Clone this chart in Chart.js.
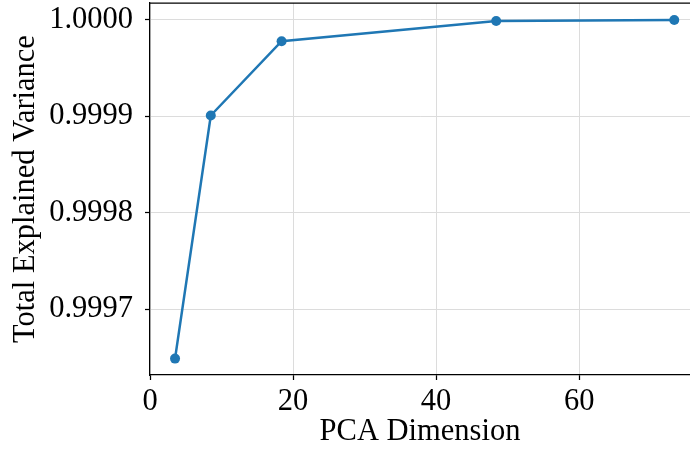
<!DOCTYPE html>
<html>
<head>
<meta charset="utf-8">
<script src="https://cdn.jsdelivr.net/npm/chart.js@4/dist/chart.umd.min.js"></script>
<style>
  html, body { margin: 0; padding: 0; background: #ffffff; }
  #wrap { width: 690px; height: 453px; }
</style>
</head>
<body>
<div id="wrap"><canvas id="c" width="690" height="453"></canvas></div>
<script>
// PCA dimension vs. cumulative explained variance
const dimensions = [3.5, 8.5, 18.4, 48.4, 73.3];
const explainedVariance = [0.999649, 0.999901, 0.999978, 0.999999, 1.0000];
const xTicks = [0, 20, 40, 60];
const yTicks = [0.9997, 0.9998, 0.9999, 1.0000];

const serif = "'Liberation Serif', 'DejaVu Serif', serif";
const fontSize = 30.5;

// Closes the frame along the top edge of the plot area
const topSpine = {
  id: 'topSpine',
  afterDraw(chart) {
    const { ctx, chartArea } = chart;
    ctx.save();
    ctx.strokeStyle = '#000000';
    ctx.lineWidth = 1.25;
    ctx.beginPath();
    ctx.moveTo(chartArea.left, chartArea.top);
    ctx.lineTo(chartArea.right, chartArea.top);
    ctx.stroke();
    ctx.restore();
  }
};

new Chart(document.getElementById('c'), {
  type: 'line',
  data: {
    datasets: [{
      data: dimensions.map((d, i) => ({ x: d, y: explainedVariance[i] })),
      borderColor: '#1f77b4',
      backgroundColor: '#1f77b4',
      borderWidth: 2.5,
      pointRadius: 5,
      pointBorderWidth: 0,
      pointBackgroundColor: '#1f77b4',
      tension: 0,
      fill: false,
      clip: false
    }]
  },
  options: {
    responsive: false,
    animation: false,
    layout: { autoPadding: false, padding: { top: 3, right: 0, bottom: 0, left: 0 } },
    plugins: { legend: { display: false }, tooltip: { enabled: false } },
    scales: {
      x: {
        type: 'linear',
        min: 0,
        max: 75.5,
        afterBuildTicks(scale) { scale.ticks = xTicks.map(v => ({ value: v })); },
        afterFit(scale) {
          scale.height = 78;
          scale.paddingLeft = 0;
          scale.paddingRight = 0;
        },
        grid: {
          color: '#dcdcdc',
          lineWidth: 1,
          drawTicks: true,
          tickLength: 5,
          tickColor: '#000000',
          tickWidth: 1.25
        },
        border: { display: true, color: '#000000', width: 1.25 },
        ticks: {
          color: '#000000',
          font: { family: serif, size: fontSize },
          padding: 4,
          maxRotation: 0,
          callback: v => String(v)
        },
        title: {
          display: true,
          text: 'PCA Dimension',
          color: '#000000',
          font: { family: serif, size: fontSize },
          padding: { top: 0, bottom: 3 }
        }
      },
      y: {
        type: 'linear',
        min: 0.999632,
        max: 1.0000176,
        afterBuildTicks(scale) { scale.ticks = yTicks.map(v => ({ value: v })); },
        afterFit(scale) {
          scale.width = 150;
          scale.paddingTop = 0;
          scale.paddingBottom = 0;
        },
        grid: {
          color: '#dcdcdc',
          lineWidth: 1,
          drawTicks: true,
          tickLength: 5,
          tickColor: '#000000',
          tickWidth: 1.25
        },
        border: { display: true, color: '#000000', width: 1.25 },
        ticks: {
          color: '#000000',
          font: { family: serif, size: fontSize },
          padding: 12,
          callback: v => Number(v).toFixed(4)
        },
        title: {
          display: true,
          text: 'Total Explained Variance',
          color: '#000000',
          font: { family: serif, size: fontSize },
          padding: { top: 8, bottom: 0 }
        }
      }
    }
  },
  plugins: [topSpine]
});
</script>
</body>
</html>
